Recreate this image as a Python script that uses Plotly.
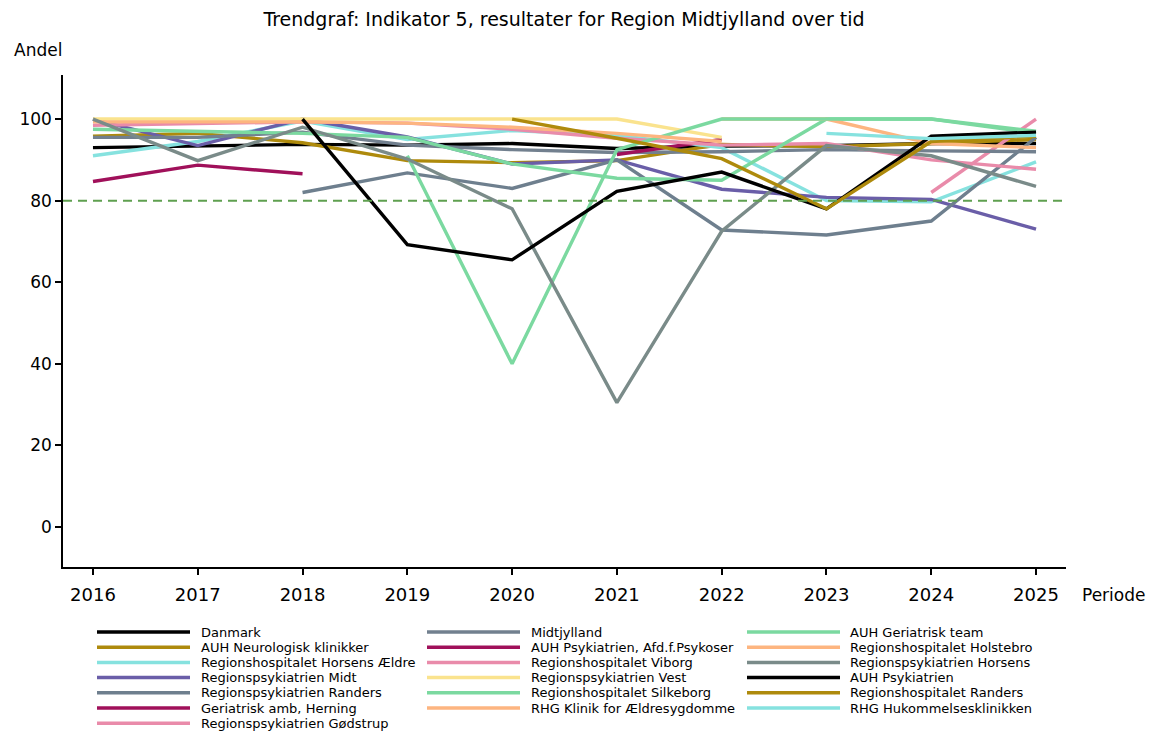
import plotly.graph_objects as go

# ---- data -------------------------------------------------------------
years = [2016, 2017, 2018, 2019, 2020, 2021, 2022, 2023, 2024, 2025]
N = None

danmark = [93.0, 93.3, 93.8, 93.6, 94.0, 92.8, 93.4, 93.5, 94.0, 94.0]
auh_neurologisk = [95.8, 96.5, 94.2, 89.8, 89.3, 89.8, 93.8, 93.2, 94.0, 95.0]
rh_horsens_aeldre = [91.0, 94.5, 99.5, 95.0, 97.2, 96.0, 93.0, 80.0, 79.7, 89.5]
rp_midt = [100.0, 93.5, 100.0, 95.6, 89.0, 90.0, 82.8, 80.8, 80.3, 73.0]
rp_randers = [N, N, 82.0, 86.8, 83.0, 90.0, 72.8, 71.6, 75.0, 95.5]
ger_amb_herning = [84.7, 88.7, 86.6, N, N, N, N, N, N, N]
rp_goedstrup = [N, N, N, N, N, N, N, N, 82.0, 100.0]
midtjylland = [95.5, 95.5, 96.8, 93.6, 92.5, 91.8, 92.0, 92.5, 92.2, 92.0]
auh_psykoser = [N, N, N, N, N, 91.3, 95.0, N, N, N]
rh_viborg = [98.5, 99.0, 99.3, 99.0, 97.5, 95.3, 93.6, 94.0, 90.0, 87.7]
rp_vest = [100.0, 100.0, 100.0, 100.0, 100.0, 100.0, 95.5, N, N, N]
rh_silkeborg = [97.5, 97.0, 96.5, 95.5, 89.0, 85.5, 85.0, 100.0, 100.0, 96.5]
rhg_klinik_aeldre = [N, N, N, N, N, N, 100.0, 100.0, 94.0, 93.0]
auh_geriatrisk = [N, N, N, 91.0, 40.0, 92.5, 100.0, 100.0, 100.0, 97.0]
rh_holstebro = [99.3, 99.3, 99.3, 99.0, 98.0, 96.5, 94.5, N, N, N]
rp_horsens = [100.0, 89.8, 98.0, 90.2, 78.0, 30.5, 72.5, 93.5, 91.0, 83.5]
auh_psykiatrien = [N, N, 100.0, 69.2, 65.5, 82.3, 87.0, 78.0, 95.8, 96.8]
rh_randers = [N, N, N, N, 100.0, 95.3, 90.3, 78.0, 94.5, 95.8]
rhg_hukommelse = [N, N, N, N, N, N, N, 96.5, 95.2, 96.0]

target = 80

series = [
    ("Danmark", danmark, "#000000"),
    ("AUH Neurologisk klinikker", auh_neurologisk, "#AE8A0C"),
    ("Regionshospitalet Horsens Ældre", rh_horsens_aeldre, "#86E2DF"),
    ("Regionspsykiatrien Midt", rp_midt, "#6A5EA8"),
    ("Regionspsykiatrien Randers", rp_randers, "#6E7F8E"),
    ("Geriatrisk amb, Herning", ger_amb_herning, "#A0105A"),
    ("Regionspsykiatrien Gødstrup", rp_goedstrup, "#E98BAA"),
    ("Midtjylland", midtjylland, "#72808F"),
    ("AUH Psykiatrien, Afd.f.Psykoser", auh_psykoser, "#A0105A"),
    ("Regionshospitalet Viborg", rh_viborg, "#E98BAA"),
    ("Regionspsykiatrien Vest", rp_vest, "#FAE38E"),
    ("Regionshospitalet Silkeborg", rh_silkeborg, "#7BD9A0"),
    ("RHG Klinik for Ældresygdomme", rhg_klinik_aeldre, "#FDB580"),
    ("AUH Geriatrisk team", auh_geriatrisk, "#7BD9A0"),
    ("Regionshospitalet Holstebro", rh_holstebro, "#FDB580"),
    ("Regionspsykiatrien Horsens", rp_horsens, "#7A8B89"),
    ("AUH Psykiatrien", auh_psykiatrien, "#000000"),
    ("Regionshospitalet Randers", rh_randers, "#AE8A0C"),
    ("RHG Hukommelsesklinikken", rhg_hukommelse, "#86E2DF"),
]

# ---- layout geometry (pixels) -----------------------------------------
W, H = 1158, 733
L, R, T, B = 63, 1066, 75, 567
PW, PH = R - L, B - T


def px(x):
    return (x - L) / PW


def py(y):
    return (B - y) / PH


FONT = "DejaVu Sans"

fig = go.Figure()
for name, vals, color in series:
    fig.add_trace(go.Scatter(
        x=years, y=vals, mode="lines", name=name,
        line=dict(color=color, width=3.4),
        connectgaps=False, showlegend=False,
    ))

# target line
fig.add_shape(type="line", xref="paper", yref="y", x0=0, x1=1, y0=target, y1=target,
              line=dict(color="#5FA050", width=2, dash="9px,6px"))

# legend: three columns filled column by column (7 / 6 / 6 entries)
col_sizes = [7, 6, 6]
col_line_x = [(97, 190), (427, 520), (747, 840)]
col_text_x = [199, 529, 848]
row_y0, row_dy = 632, 15.2
slots = [(c, r) for c, n in enumerate(col_sizes) for r in range(n)]
for (name, vals, color), (c, r) in zip(series, slots):
    yy = row_y0 + r * row_dy
    x0, x1 = col_line_x[c]
    fig.add_shape(type="line", xref="paper", yref="paper",
                  x0=px(x0), x1=px(x1), y0=py(yy), y1=py(yy),
                  line=dict(color=color, width=3.5))
    fig.add_annotation(xref="paper", yref="paper", x=px(col_text_x[c]), y=py(yy),
                       text=name, showarrow=False, xanchor="left", yanchor="middle",
                       font=dict(family=FONT, size=13, color="#000000"))

# axis titles placed at the corners
fig.add_annotation(xref="paper", yref="paper", x=px(38), y=py(50), text="Andel",
                   showarrow=False, xanchor="center", yanchor="middle",
                   font=dict(family=FONT, size=17, color="#000000"))
fig.add_annotation(xref="paper", yref="paper", x=px(1080), y=py(595), text="Periode",
                   showarrow=False, xanchor="left", yanchor="middle",
                   font=dict(family=FONT, size=17, color="#000000"))

fig.update_layout(
    width=W, height=H,
    margin=dict(l=L, r=W - R, t=T, b=H - B, autoexpand=False),
    paper_bgcolor="white", plot_bgcolor="white",
    font=dict(family=FONT, size=17, color="#000000"),
    title=dict(text="Trendgraf: Indikator 5, resultater for Region Midtjylland over tid",
               x=564 / W, xanchor="center", y=1 - 19 / H, yanchor="middle",
               font=dict(family=FONT, size=19, color="#000000")),
    showlegend=False,
)
fig.update_xaxes(
    range=[2015.714, 2025.286], tickmode="array", tickvals=years,
    ticktext=[str(y) for y in years], showgrid=False, zeroline=False,
    showline=True, linecolor="#000000", linewidth=1.5,
    ticks="outside", ticklen=6, tickcolor="#000000", tickwidth=1.5,
    ticklabelstandoff=5,
    tickfont=dict(family=FONT, size=18),
)
fig.update_yaxes(
    range=[-9.8, 110.8], tickvals=[0, 20, 40, 60, 80, 100], showgrid=False,
    zeroline=False, showline=True, linecolor="#000000", linewidth=1.5,
    ticks="outside", ticklen=6, tickcolor="#000000", tickwidth=1.5,
    tickfont=dict(family=FONT, size=17),
)

fig.write_html("out.html")
